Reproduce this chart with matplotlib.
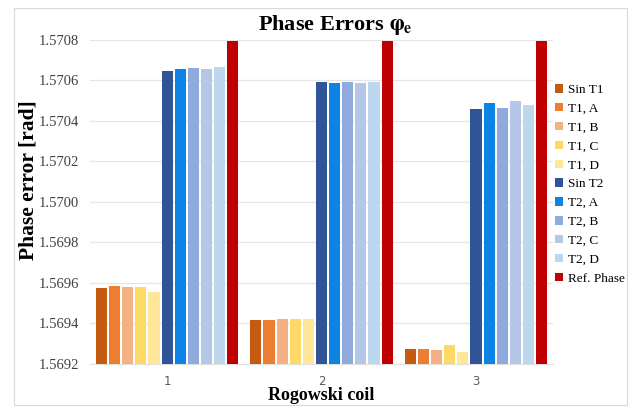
import numpy as np
import matplotlib
matplotlib.use("Agg")
import matplotlib.pyplot as plt
from matplotlib.patches import Rectangle

# Phase errors per Rogowski coil
coils = ["1", "2", "3"]
series = ["Sin T1", "T1, A", "T1, B", "T1, C", "T1, D",
          "Sin T2", "T2, A", "T2, B", "T2, C", "T2, D", "Ref. Phase"]

sin_t1 = [1.569576, 1.569418, 1.569272]
t1_a = [1.569584, 1.569418, 1.569272]
t1_b = [1.569578, 1.569420, 1.569271]
t1_c = [1.569582, 1.569421, 1.569293]
t1_d = [1.569556, 1.569422, 1.569258]
sin_t2 = [1.570646, 1.570592, 1.570460]
t2_a = [1.570658, 1.570589, 1.570489]
t2_b = [1.570663, 1.570592, 1.570462]
t2_c = [1.570656, 1.570589, 1.570500]
t2_d = [1.570669, 1.570592, 1.570477]
ref_phase = [1.570796, 1.570796, 1.570796]

values = [sin_t1, t1_a, t1_b, t1_c, t1_d, sin_t2, t2_a, t2_b, t2_c, t2_d, ref_phase]
colors = ["#C55A11", "#ED7D31", "#F4B183", "#FFD966", "#FFE699",
          "#2F5597", "#0B84E6", "#8FAADC", "#B4C7E7", "#BDD7EE", "#C00000"]

yticks = [1.5692, 1.5694, 1.5696, 1.5698, 1.5700, 1.5702, 1.5704, 1.5706, 1.5708]

serif = "Liberation Serif"
plt.rcParams["mathtext.fontset"] = "stix"

fig = plt.figure(figsize=(6.38, 4.08), dpi=100)
ax = fig.add_axes([0.141, 0.108, 0.726, 0.794])

x = np.arange(1, len(coils) + 1)
slot = 0.085
bw = 0.072
base = 1.5692
for i, (name, v, c) in enumerate(zip(series, values, colors)):
    off = (i - (len(series) - 1) / 2) * slot
    ax.bar(x + off, np.array(v) - base, bw, bottom=base, color=c, label=name, zorder=3)

ax.set_xlim(0.5, 3.5)
ax.set_ylim(1.5692, 1.5708)
ax.set_yticks(yticks)
ax.set_yticklabels(["%.4f" % t for t in yticks], fontfamily=serif, fontsize=10.5, color="#404040")
ax.set_xticks(x)
ax.set_xticklabels(coils, fontfamily="DejaVu Sans", fontsize=8.5, color="#595959")
ax.tick_params(axis="y", length=0, pad=8)
ax.tick_params(axis="x", length=0, pad=8)

ax.grid(axis="y", color="#E6E6E6", linewidth=0.9, zorder=0)
for s in ["top", "right", "left"]:
    ax.spines[s].set_visible(False)
ax.spines["bottom"].set_color("#E0E0E0")

ax.set_title(r"Phase Errors $\mathbf{\varphi_e}$", fontfamily=serif, fontsize=16,
             fontweight="bold", pad=7, x=0.53)
ax.set_ylabel("Phase error [rad]", fontfamily=serif, fontsize=15.5, fontweight="bold")
ax.yaxis.set_label_coords(-0.112, 0.568)
ax.set_xlabel("Rogowski coil", fontfamily=serif, fontsize=13, fontweight="bold")
ax.xaxis.set_label_coords(0.5, -0.072)

ax.legend(loc="upper left", bbox_to_anchor=(555 / 638, 1 - 84 / 408),
          bbox_transform=fig.transFigure, frameon=False,
          prop={"family": serif, "size": 9.5}, handlelength=0.6, handleheight=0.6,
          handletextpad=0.35, labelspacing=0.52, borderaxespad=0, borderpad=0)

fig.patches.append(Rectangle((14 / 638, 3 / 408), 613 / 638, 397 / 408,
                             transform=fig.transFigure, fill=False,
                             edgecolor="#D9D9D9", linewidth=0.8))

fig.savefig("out.png", dpi=100)
